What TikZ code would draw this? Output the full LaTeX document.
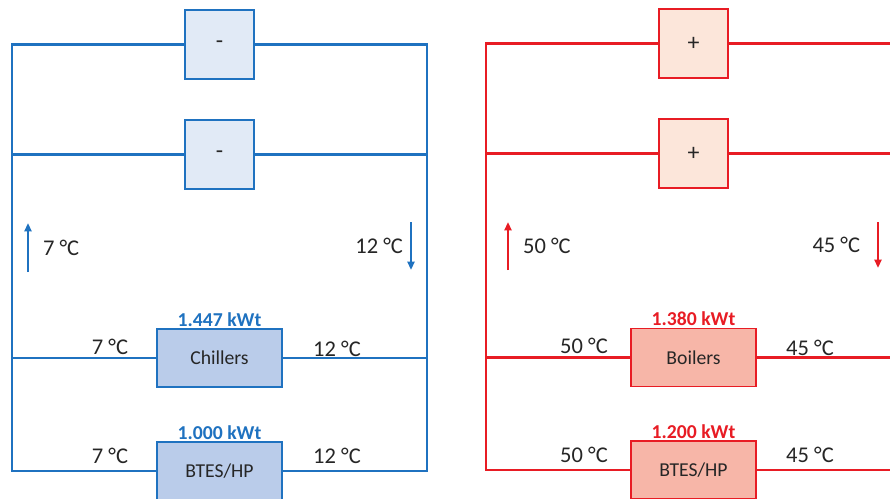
\documentclass[tikz,border=0pt]{standalone}
\usepackage{fontspec}
\setmainfont{Carlito}
\usepackage{tikz}
\usetikzlibrary{arrows.meta,positioning}
\definecolor{coolBlue}{RGB}{31,114,192}
\definecolor{coolBlueLight}{RGB}{225,234,246}
\definecolor{coolBlueMid}{RGB}{186,204,234}
\definecolor{heatRed}{RGB}{232,28,36}
\definecolor{heatRedLight}{RGB}{252,230,218}
\definecolor{heatRedMid}{RGB}{247,182,168}
\definecolor{txtgray}{RGB}{38,38,38}
\tikzset{
  pipeC/.style={coolBlue, line width=2.1pt},
  pipeH/.style={heatRed, line width=2.1pt},
  loadbox/.style={draw, line width=1.2pt, minimum width=1.725cm, minimum height=1.725cm,
    inner sep=0pt, text=txtgray, font=\fontsize{17}{20}\selectfont},
  unitbox/.style={draw, line width=1.4pt, minimum width=3.125cm, minimum height=1.45cm,
    inner sep=0pt, text=txtgray, font=\fontsize{14}{17}\selectfont},
  temp/.style={text=txtgray, font=\fontsize{16}{19}\selectfont, inner sep=0pt},
  power/.style={font=\bfseries\fontsize{14}{17}\selectfont, inner sep=1pt},
  flow/.style={line width=1.5pt, -{Triangle[width=5pt,length=6pt]}}
}
\begin{document}
\begin{tikzpicture}[x=0.025cm,y=-0.025cm]
\clip (0,0) rectangle (890,499);
\fill[white] (0,0) rectangle (890,499);

% cooling loop
\node[loadbox, coolBlue, fill=coolBlueLight] (c1) at (219.5,44.5) {\textcolor{txtgray}{-}};
\node[loadbox, coolBlue, fill=coolBlueLight] (c2) at (219.5,154.5) {\textcolor{txtgray}{-}};
\node[unitbox, coolBlue, fill=coolBlueMid] (chl) at (219.5,358) {\textcolor{txtgray}{Chillers}};
\node[unitbox, coolBlue, fill=coolBlueMid] (cbt) at (219.5,471) {\textcolor{txtgray}{BTES/HP}};
\coordinate (cTL) at (12,44.5);
\coordinate (cTR) at (427,44.5);
\coordinate (cBL) at (12,471);
\coordinate (cBR) at (427,471);

\draw[pipeC] (c1.west) -- (cTL) -- (cBL) -- (cbt.west);
\draw[pipeC] (c1.east) -- (cTR) -- (cBR) -- (cbt.east);
\draw[pipeC] (c2.west) -- (cTL |- c2.west);
\draw[pipeC] (c2.east) -- (cTR |- c2.east);
\draw[pipeC] (chl.west) -- (cTL |- chl.west);
\draw[pipeC] (chl.east) -- (cTR |- chl.east);

\node[power, text=coolBlue, above=0pt of chl] {1.447 kWt};
\node[power, text=coolBlue, above=0pt of cbt] {1.000 kWt};
\node[temp] at (110,347) {7 °C};
\node[temp] at (337,349) {12 °C};
\node[temp] at (110,456) {7 °C};
\node[temp] at (337,456) {12 °C};

\draw[flow, coolBlue] (28,272) -- (28,223) node[temp, right=10pt, pos=0.5] {7 °C};
\draw[flow, coolBlue] (411,222) -- (411,270) node[temp, left=5pt, pos=0.5] {12 °C};

% heating loop
\node[loadbox, heatRed, fill=heatRedLight] (h1) at (693.5,43.5) {\textcolor{txtgray}{+}};
\node[loadbox, heatRed, fill=heatRedLight] (h2) at (693.5,153.5) {\textcolor{txtgray}{+}};
\node[unitbox, heatRed, fill=heatRedMid] (blr) at (693.5,357.5) {\textcolor{txtgray}{Boilers}};
\node[unitbox, heatRed, fill=heatRedMid] (hbt) at (693.5,470) {\textcolor{txtgray}{BTES/HP}};
\coordinate (hTL) at (486,43.5);
\coordinate (hTR) at (901,43.5);
\coordinate (hBL) at (486,470);
\coordinate (hBR) at (901,470);

\draw[pipeH] (h1.west) -- (hTL) -- (hBL) -- (hbt.west);
\draw[pipeH] (h1.east) -- (hTR) -- (hBR) -- (hbt.east);
\draw[pipeH] (h2.west) -- (hTL |- h2.west);
\draw[pipeH] (h2.east) -- (hTR |- h2.east);
\draw[pipeH] (blr.west) -- (hTL |- blr.west);
\draw[pipeH] (blr.east) -- (hTR |- blr.east);

\node[power, text=heatRed, above=0pt of blr] {1.380 kWt};
\node[power, text=heatRed, above=0pt of hbt] {1.200 kWt};
\node[temp] at (584,346) {50 °C};
\node[temp] at (810,348) {45 °C};
\node[temp] at (584,455) {50 °C};
\node[temp] at (810,455) {45 °C};

\draw[flow, heatRed] (508,270) -- (508,222) node[temp, right=10pt, pos=0.5] {50 °C};
\draw[flow, heatRed] (878,222) -- (878,268) node[temp, left=12pt, pos=0.5] {45 °C};
\end{tikzpicture}
\end{document}
